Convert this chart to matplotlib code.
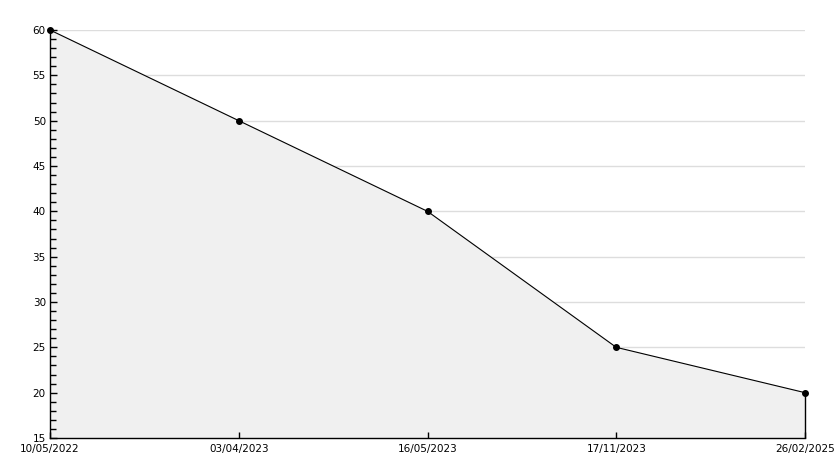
import matplotlib
matplotlib.use('Agg')
import matplotlib.pyplot as plt
from matplotlib.ticker import MultipleLocator

dates = ['10/05/2022', '03/04/2023', '16/05/2023', '17/11/2023', '26/02/2025']
values = [60, 50, 40, 25, 20]

fig = plt.figure(figsize=(8.34, 4.68), dpi=100)
ax = fig.add_axes([50/834, 30/468, 755/834, 408/468])

x = list(range(len(dates)))
ax.set_xlim(0, len(dates) - 1)
ax.set_ylim(15, 60)
ax.set_xticks(x)
ax.set_xticklabels(dates)
ax.yaxis.set_major_locator(MultipleLocator(5))
ax.yaxis.set_minor_locator(MultipleLocator(1))

# grid under the fill, ticks on top
for yv in ax.get_yticks():
    ax.axhline(yv, color='#dddddd', linewidth=1, zorder=0.5)

ax.fill_between(x, values, 15, color='#f0f0f0', zorder=1)
ax.plot(x, values, color='black', linewidth=0.8, marker='o', markersize=4,
        zorder=3, clip_on=False)
ax.vlines(x[-1], 15, values[-1], color='black', linewidth=1, zorder=2,
          clip_on=False)
ax.set_axisbelow(False)

for s in ['top', 'right']:
    ax.spines[s].set_visible(False)
ax.spines['left'].set_linewidth(1)
ax.spines['bottom'].set_linewidth(1)

ax.tick_params(axis='both', direction='in', labelsize=7.5, length=5, width=1, pad=3)
ax.tick_params(axis='y', which='minor', direction='in', length=4, width=1)
ax.tick_params(axis='x', pad=4, length=4)

fig.savefig('out.png', dpi=100)
